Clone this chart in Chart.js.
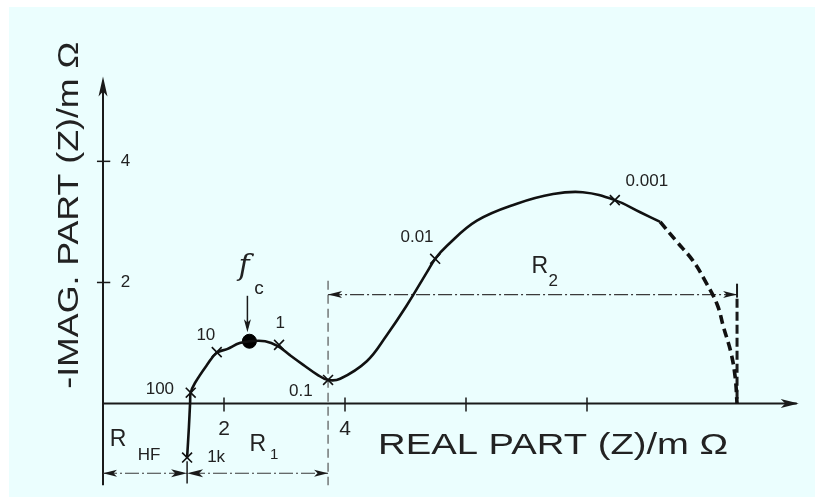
<!DOCTYPE html>
<html><head><meta charset="utf-8">
<script src="https://cdn.jsdelivr.net/npm/chart.js@4.4.1/dist/chart.umd.min.js"></script>
<style>html,body{margin:0;padding:0;background:#fff}canvas{display:block}</style>
</head><body>
<canvas id="c" width="815" height="497"></canvas>
<script>
// ---- data (real / imaginary parts in mOhm) ----
const solidRe = [1.39,1.42,1.44,1.45,1.52,1.72,1.88,2.05,2.26,2.43,2.68,2.89,3.09,3.31,3.54,3.72,3.92,4.36,4.69,5.02,5.36,5.49,5.69,6.18,6.84,7.44,7.93,8.46,8.88,9.21];
const solidIm = [-0.89,-0.39,0.02,0.18,0.34,0.64,0.84,0.90,1.00,1.03,1.03,0.95,0.80,0.64,0.48,0.39,0.41,0.70,1.13,1.62,2.18,2.39,2.61,3.02,3.30,3.46,3.49,3.36,3.16,3.00];
const dashRe = [9.21,9.47,9.75,9.95,10.15,10.26,10.38,10.45,10.48];
const dashIm = [3.00,2.69,2.36,2.03,1.64,1.25,0.84,0.43,0.00];
const markFreq = ['1k','100','10','1','0.1','0.01','0.001'];
const markRe = [1.39,1.45,1.88,2.91,3.72,5.49,8.46];
const markIm = [-0.89,0.18,0.85,0.97,0.39,2.39,3.36];
const fcRe = [2.42];
const fcIm = [1.03];
const xTicks = [2,4,6,8];
const xTickLabels = ['2','4','',''];
const yTicks = [2,4];
const yTickLabels = ['2','4'];
const rHF = 1.39;      // end of R_HF
const r1End = 3.72;    // end of R1
const r2End = 10.48;   // end of R2
const r2Level = 1.80;  // height of R2 dimension line
const dimLevel = -1.15;

// label anchors (data coords)
const freqLabelRe = [1.87,0.94,1.70,2.93,3.27,5.19,8.99];
const freqLabelIm = [-0.89,0.23,1.13,1.33,0.21,2.75,3.67];

const pts = (xs, ys) => xs.map((x, i) => ({x, y: ys[i]}));

const bg = {
  id: 'bg',
  beforeDraw(chart) {
    const c = chart.ctx;
    c.save();
    c.fillStyle = '#ffffff'; c.fillRect(0, 0, chart.width, chart.height);
    c.fillStyle = '#ebfefe'; c.fillRect(9, 7, chart.width - 9, chart.height - 7);
    c.restore();
  }
};

function arrowHead(c, x, y, dir, len, hw) {
  // dir: angle in radians of pointing direction
  c.save();
  c.translate(x, y); c.rotate(dir);
  c.beginPath(); c.moveTo(0, 0); c.lineTo(-len, -hw); c.lineTo(-len * 0.75, 0); c.lineTo(-len, hw); c.closePath();
  c.fill();
  c.restore();
}
function fitText(c, s, cx, cy, font, w, rot) {
  c.save();
  c.font = font;
  const m = c.measureText(s).width;
  c.translate(cx, cy);
  if (rot) c.rotate(rot);
  c.scale(w / m, 1);
  c.textAlign = 'center'; c.textBaseline = 'middle';
  c.fillText(s, 0, 0);
  c.restore();
}
function text(c, s, x, y, font, align) {
  c.save();
  c.font = font; c.textAlign = align || 'center'; c.textBaseline = 'middle';
  c.fillText(s, x, y);
  c.restore();
}

const deco = {
  id: 'deco',
  beforeDatasetsDraw(chart) {
    const c = chart.ctx, X = chart.scales.x, Y = chart.scales.y;
    const px = v => X.getPixelForValue(v), py = v => Y.getPixelForValue(v);
    c.save();
    c.strokeStyle = '#1a1a1a'; c.fillStyle = '#1a1a1a';
    // x axis
    c.lineWidth = 2;
    c.beginPath(); c.moveTo(px(0), py(0)); c.lineTo(px(11.5) - 2, py(0)); c.stroke();
    arrowHead(c, px(11.5), py(0), 0, 18, 4.5);
    // y axis
    c.beginPath(); c.moveTo(px(0), py(-1.35)); c.lineTo(px(0), py(5.3)); c.stroke();
    arrowHead(c, px(0), py(5.4), -Math.PI / 2, 20, 4.5);
    // ticks
    c.lineWidth = 1.5;
    xTicks.forEach(t => { c.beginPath(); c.moveTo(px(t), py(0.1)); c.lineTo(px(t), py(-0.13)); c.stroke(); });
    yTicks.forEach(t => { c.beginPath(); c.moveTo(px(-0.1), py(t)); c.lineTo(px(0.12), py(t)); c.stroke(); });
    // tick at 1k
    c.beginPath(); c.moveTo(px(rHF), py(-0.95)); c.lineTo(px(rHF), py(-1.32)); c.stroke();
    // thin dashed vertical at R1 end
    c.strokeStyle = '#555'; c.lineWidth = 1.2; c.setLineDash([9, 5]);
    c.beginPath(); c.moveTo(px(r1End), py(2.03)); c.lineTo(px(r1End), py(-1.35)); c.stroke();
    // dimension lines (dash-dot)
    c.setLineDash([14, 3, 2, 3]); c.strokeStyle = '#3a3a3a'; c.lineWidth = 1.2;
    c.beginPath(); c.moveTo(px(0), py(dimLevel)); c.lineTo(px(r1End), py(dimLevel)); c.stroke();
    c.beginPath(); c.moveTo(px(r1End), py(r2Level)); c.lineTo(px(r2End), py(r2Level)); c.stroke();
    c.setLineDash([]);
    c.fillStyle = '#1a1a1a'; c.strokeStyle = '#1a1a1a';
    arrowHead(c, px(0), py(dimLevel), Math.PI, 14, 3.5);
    arrowHead(c, px(rHF), py(dimLevel), 0, 16, 4);
    arrowHead(c, px(rHF), py(dimLevel), Math.PI, 16, 4);
    arrowHead(c, px(r1End), py(dimLevel), 0, 14, 3.5);
    arrowHead(c, px(r1End), py(r2Level), Math.PI, 14, 3.5);
    arrowHead(c, px(r2End), py(r2Level), 0, 14, 3.5);
    c.lineWidth = 2;
    c.beginPath(); c.moveTo(px(r2End), py(r2Level + 0.18)); c.lineTo(px(r2End), py(r2Level - 0.05)); c.stroke();
    // thick dashed vertical at R2 end
    c.lineWidth = 3; c.setLineDash([9, 4]);
    c.beginPath(); c.moveTo(px(r2End), py(r2Level - 0.07)); c.lineTo(px(r2End), py(0)); c.stroke();
    c.setLineDash([]);
    // fc arrow
    c.lineWidth = 1.5;
    c.beginPath(); c.moveTo(px(fcRe[0]) - 2, py(1.78)); c.lineTo(px(fcRe[0]) - 2, py(1.25)); c.stroke();
    arrowHead(c, px(fcRe[0]) - 2, py(1.18), Math.PI / 2, 13, 3.5);
    c.restore();
  },
  afterDatasetsDraw(chart) {
    const c = chart.ctx, X = chart.scales.x, Y = chart.scales.y;
    const px = v => X.getPixelForValue(v), py = v => Y.getPixelForValue(v);
    c.save();
    c.fillStyle = '#222';
    const F = '"Liberation Sans", Arial, sans-serif';
    // frequency labels
    markFreq.forEach((s, i) => text(c, s, px(freqLabelRe[i]), py(freqLabelIm[i]), '17px ' + F));
    // tick labels
    xTicks.forEach((t, i) => { if (xTickLabels[i]) text(c, xTickLabels[i], px(t), py(-0.43), '21px ' + F); });
    yTicks.forEach((t, i) => text(c, yTickLabels[i], px(0.37), py(t), '17px ' + F));
    // R labels
    text(c, 'R', px(0.25), py(-0.59), '23px ' + F);
    text(c, 'HF', px(0.76), py(-0.85), '17px ' + F);
    text(c, 'R', px(2.56), py(-0.67), '23px ' + F);
    text(c, '1', px(2.83), py(-0.85), '15px ' + F);
    text(c, 'R', px(7.22), py(2.26), '23px ' + F);
    text(c, '2', px(7.44), py(2.02), '17px ' + F);
    // fc
    text(c, 'f', px(2.33), py(2.26), 'italic 30px "DejaVu Serif", serif');
    text(c, 'c', px(2.58), py(1.90), '19px ' + F);
    // axis titles
    fitText(c, 'REAL PART (Z)/m Ω', px(7.44), py(-0.69), '30px ' + F, 350, 0);
    fitText(c, '-IMAG. PART (Z)/m Ω', px(-0.545), py(3.11), '30px ' + F, 347, -Math.PI / 2);
    c.restore();
  }
};

new Chart(document.getElementById('c'), {
  type: 'scatter',
  data: {
    datasets: [
      { data: pts(solidRe, solidIm), showLine: true, tension: 0.4, borderColor: '#111', borderWidth: 2.6, pointRadius: 0, clip: false },
      { data: pts(dashRe, dashIm), showLine: true, tension: 0.4, borderColor: '#111', borderWidth: 3.6, borderDash: [9, 5], pointRadius: 0, clip: false },
      { data: pts(markRe, markIm), showLine: false, pointStyle: 'crossRot', pointRadius: 7, borderColor: '#111', borderWidth: 1.6, clip: false },
      { data: pts(fcRe, fcIm), showLine: false, pointStyle: 'circle', pointRadius: 7, backgroundColor: '#000', borderColor: '#000', borderWidth: 1, clip: false }
    ]
  },
  options: {
    responsive: false, animation: false, devicePixelRatio: 1,
    layout: { padding: { left: 12.25, right: 16.25, top: 70.5, bottom: 5.6 } },
    plugins: { legend: { display: false }, tooltip: { enabled: false } },
    scales: {
      x: { type: 'linear', min: -1.5, max: 11.5, display: false },
      y: { type: 'linear', min: -1.4, max: 5.5, display: false }
    }
  },
  plugins: [bg, deco]
});
</script>
</body></html>
